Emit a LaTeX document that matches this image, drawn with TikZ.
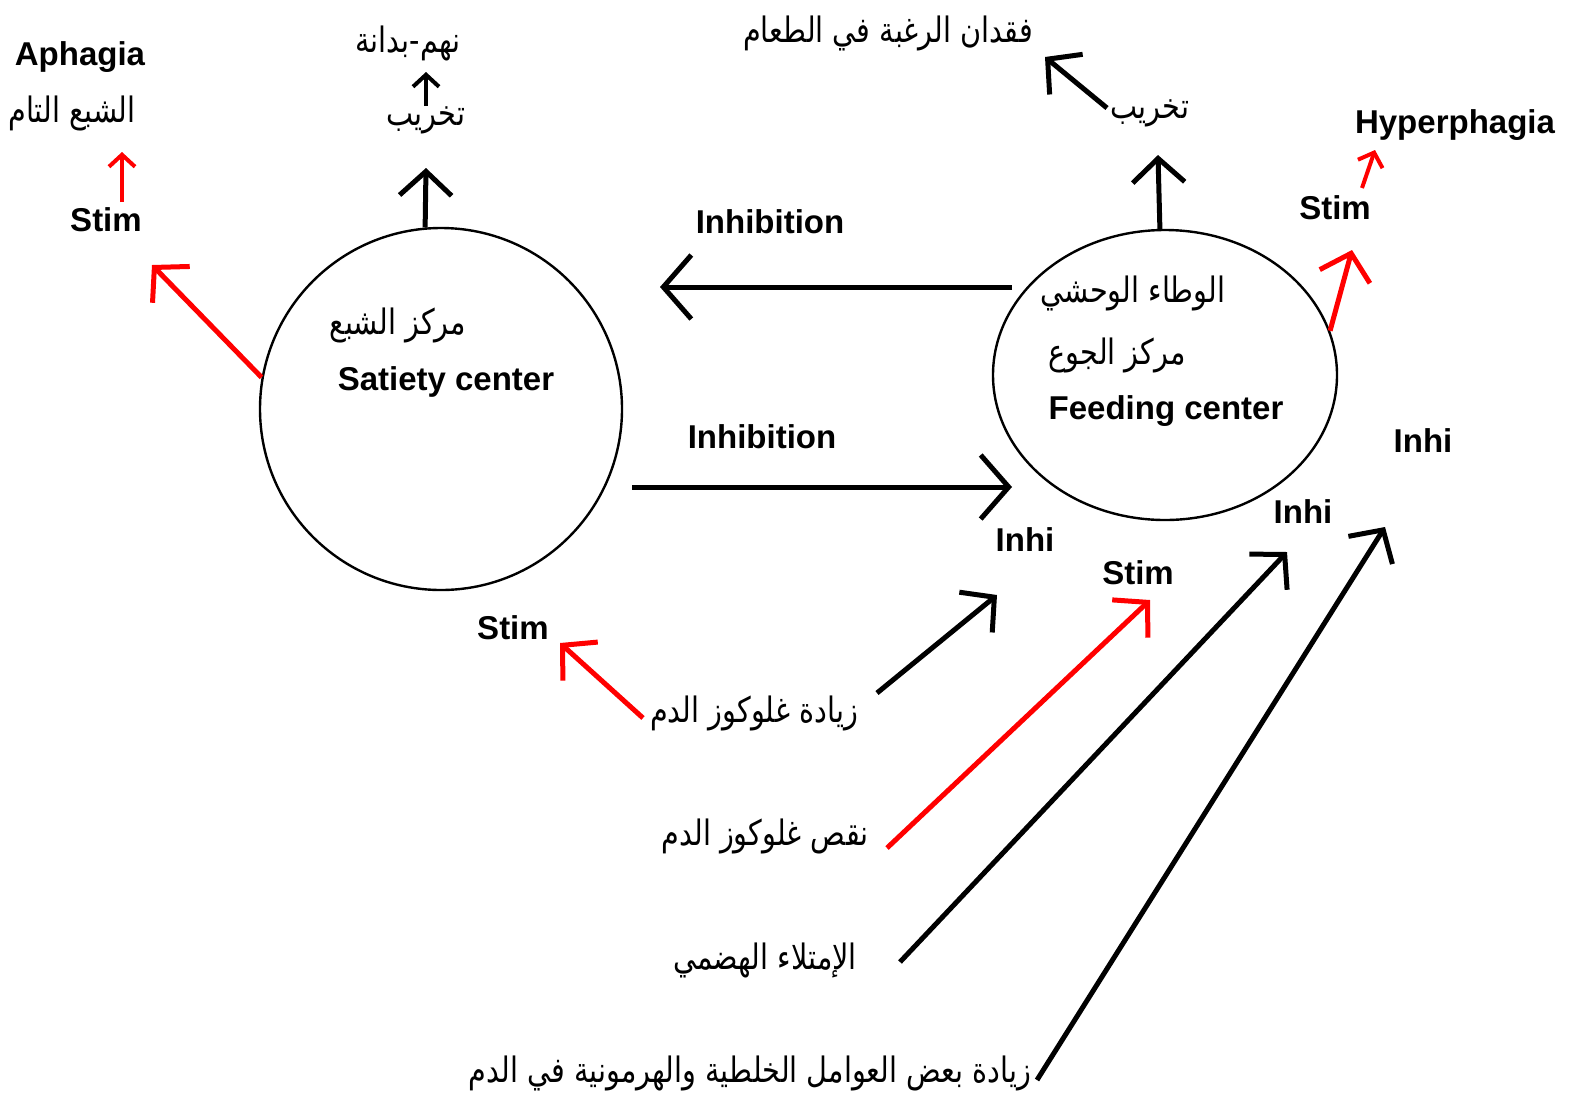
\documentclass[tikz,border=0pt]{standalone}
\usepackage{fontspec}
\setmainfont{Liberation Sans}
\newfontfamily\arabicfont[Script=Arabic]{DejaVu Sans}
\TeXXeTstate=1
\usepackage{tikz}
\usetikzlibrary{shapes.geometric,arrows.meta}
\newcommand{\ar}[1]{\scalebox{0.82}[1]{\arabicfont\beginR #1\endR}}
\tikzstyle{lbl} = [font=\fontsize{16.5}{19}\selectfont\bfseries, inner sep=0pt]
\tikzstyle{arlbl} = [font=\fontsize{17.5}{20}\selectfont, inner sep=0pt]
\tikzstyle{center} = [draw=black, line width=1.2pt, inner sep=0pt]
\tikzstyle{arrow} = [line width=2.5pt, -{Straight Barb[length=12pt,width=26pt]}]
\tikzstyle{bigarrow} = [line width=2.5pt, -{Straight Barb[length=14pt,width=32pt]}]
\tikzstyle{smallarrow} = [line width=2pt, -{Straight Barb[length=6pt,width=13pt]}]

\begin{document}
\begin{tikzpicture}[x=0.5pt, y=-0.5pt]
    \useasboundingbox (0,0) rectangle (1575,1110);

    % the two centres
    \node (satiety) [center, circle, minimum size=181pt] at (441,409) {};
    \node (feeding) [center, ellipse, minimum width=172pt, minimum height=145pt] at (1165,375) {};

    \node (satietyar) [arlbl] at (398,325) {\ar{مركز الشبع}};
    \node (satietyen) [lbl] at (446,382) {Satiety center};
    \node (lateral) [arlbl] at (1133,293) {\ar{الوطاء الوحشي}};
    \node (feedingar) [arlbl] at (1117,355) {\ar{مركز الجوع}};
    \node (feedingen) [lbl] at (1166,411) {Feeding center};

    % satiety side, top
    \node (aphagia) [lbl] at (80,57) {Aphagia};
    \node (fullsat) [arlbl] at (72,113) {\ar{الشبع التام}};
    \node (stimaph) [lbl] at (106,220) {Stim};
    \node (obesity) [arlbl] at (408,43) {\ar{نهم-بدانة}};
    \node (lesionsat) [arlbl] at (426,120) {\ar{تخريب}};

    % feeding side, top
    \node (anorexia) [arlbl] at (888,33) {\ar{فقدان الرغبة في الطعام}};
    \node (lesionfeed) [arlbl] at (1150,113) {\ar{تخريب}};
    \node (hyper) [lbl] at (1455,125) {Hyperphagia};
    \node (stimhyp) [lbl] at (1335,208) {Stim};

    % labels of the links
    \node (inhtop) [lbl] at (770,222) {Inhibition};
    \node (inhbot) [lbl] at (762,437) {Inhibition};
    \node (inhi1) [lbl] at (1025,540) {Inhi};
    \node (stimfeed) [lbl] at (1138,573) {Stim};
    \node (inhi2) [lbl] at (1303,512) {Inhi};
    \node (inhi3) [lbl] at (1423,441) {Inhi};
    \node (stimsat) [lbl] at (513,628) {Stim};

    % causes
    \node (glucup) [arlbl] at (754,713) {\ar{زيادة غلوكوز الدم}};
    \node (glucdown) [arlbl] at (765,836) {\ar{نقص غلوكوز الدم}};
    \node (distension) [arlbl] at (765,960) {\ar{الإمتلاء الهضمي}};
    \node (hormones) [arlbl] at (750,1073) {\ar{زيادة بعض العوامل الخلطية والهرمونية في الدم}};

    \coordinate (1) at (122,152);
    \coordinate (2) at (122,202);
    \coordinate (3) at (152,265);
    \coordinate (4) at (426,72);
    \coordinate (5) at (426,106);
    \coordinate (6) at (426,168);
    \coordinate (7) at (1045,57);
    \coordinate (8) at (1107,108);
    \coordinate (9) at (1158,155);
    \coordinate (10) at (1352,250);
    \coordinate (11) at (1362,188);
    \coordinate (12) at (1375,150);
    \coordinate (13) at (1012,287);
    \coordinate (14) at (660,287);
    \coordinate (15) at (632,487);
    \coordinate (16) at (1012,487);
    \coordinate (17) at (560,643);
    \coordinate (18) at (997,595);
    \coordinate (19) at (1150,600);
    \coordinate (20) at (1287,552);
    \coordinate (21) at (1385,527);
    \coordinate (22) at (643,718);
    \coordinate (23) at (877,693);
    \coordinate (24) at (887,848);
    \coordinate (25) at (900,962);
    \coordinate (26) at (1037,1080);

    \draw [smallarrow, red] (2) -- (1);
    \draw [arrow, red] (satiety.170) -- (3);
    \draw [smallarrow] (5) -- (4);
    \draw [arrow] (satiety.95) -- (6);
    \draw [arrow] (8) -- (7);
    \draw [arrow] (feeding.92) -- (9);
    \draw [arrow, red] (feeding.15) -- (10);
    \draw [smallarrow, red] (11) -- (12);

    \draw [bigarrow] (13) -- (14);
    \draw [bigarrow] (15) -- (16);

    \draw [arrow, red] (22) -- (17);
    \draw [arrow] (23) -- (18);
    \draw [arrow, red] (24) -- (19);
    \draw [arrow] (25) -- (20);
    \draw [arrow] (26) -- (21);
\end{tikzpicture}
\end{document}
